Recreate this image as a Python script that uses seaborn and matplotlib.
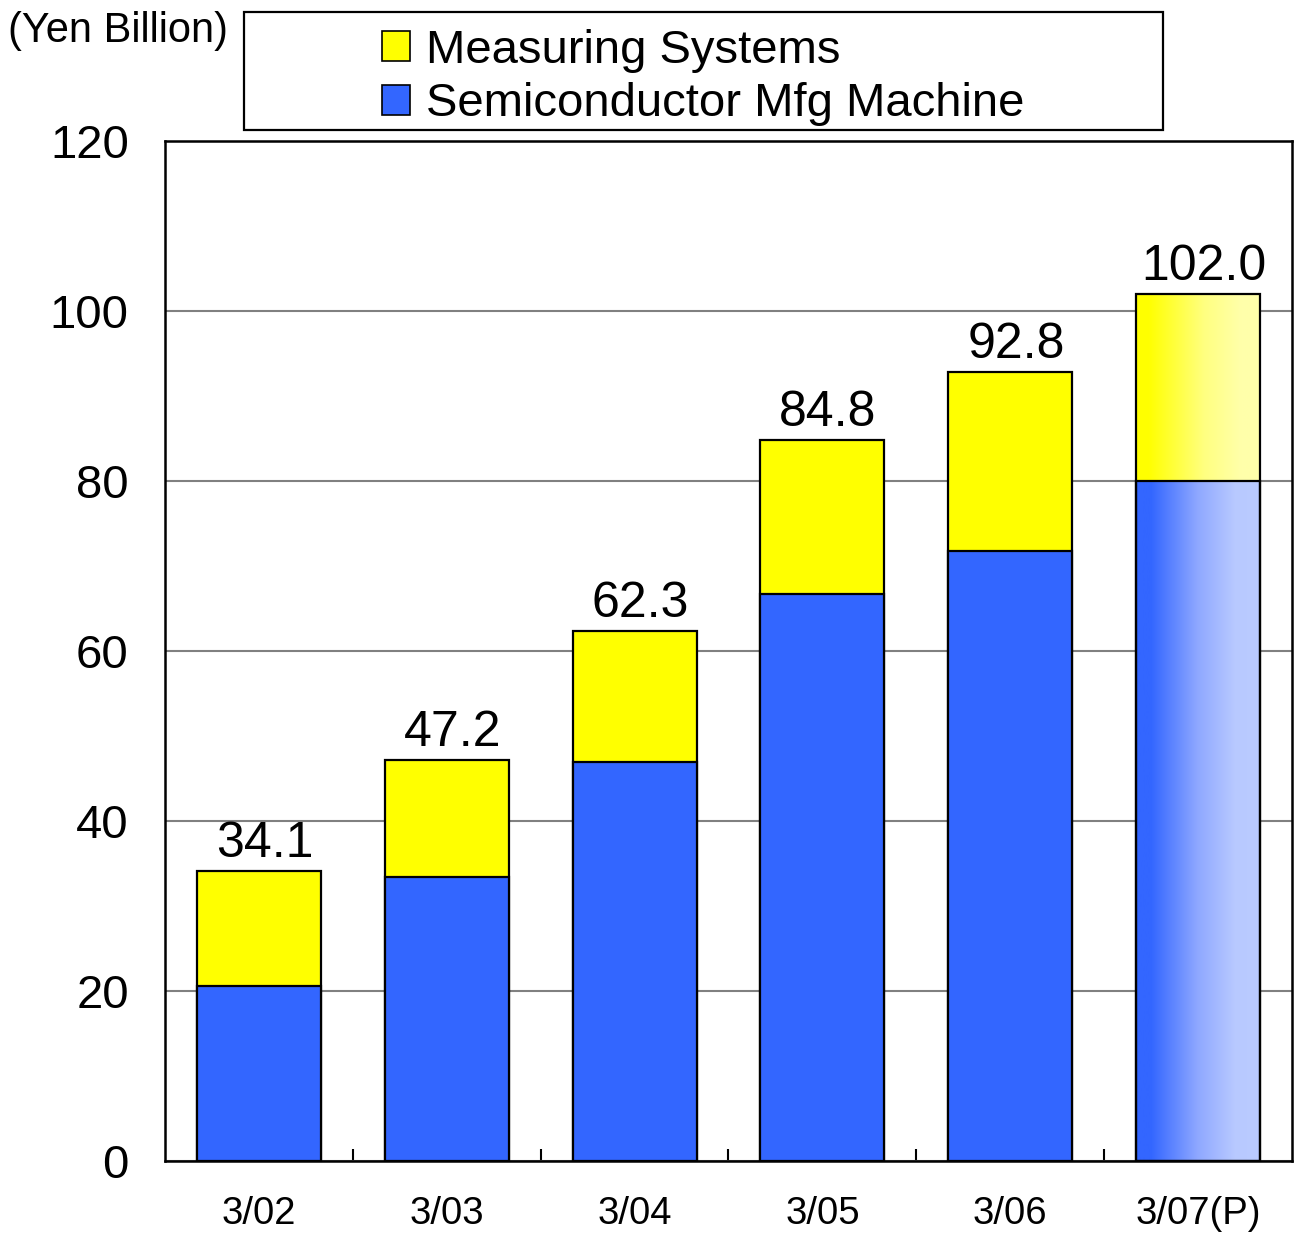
import numpy as np
import pandas as pd
import matplotlib.pyplot as plt
import seaborn as sns
from matplotlib.colors import LinearSegmentedColormap
from matplotlib.patches import Patch, Rectangle

periods = ["3/02", "3/03", "3/04", "3/05", "3/06", "3/07(P)"]
semiconductor = [20.6, 33.4, 46.9, 66.7, 71.8, 80.0]
totals = [34.1, 47.2, 62.3, 84.8, 92.8, 102.0]
y_ticks = [0, 20, 40, 60, 80, 100, 120]

BLUE = "#3366FF"
YELLOW = "#FFFF00"

sns.set_style("white")
plt.rcParams["font.family"] = ["Liberation Sans", "DejaVu Sans"]
plt.rcParams["text.color"] = "black"
plt.rcParams["xtick.color"] = "black"
plt.rcParams["ytick.color"] = "black"

df = pd.DataFrame({"period": periods, "semi": semiconductor, "total": totals})

fig = plt.figure(figsize=(13.01, 12.33), dpi=100)
ax = fig.add_axes([0.1268, 0.0584, 0.8663, 0.8272])

# stacked: total (yellow) underneath, semiconductor (blue) on top
sns.barplot(data=df, x="period", y="total", color=YELLOW, saturation=1,
            edgecolor="black", linewidth=1.6, width=0.66, ax=ax, zorder=2)
sns.barplot(data=df, x="period", y="semi", color=BLUE, saturation=1,
            edgecolor="black", linewidth=1.6, width=0.66, ax=ax, zorder=3)

# forecast bar gets a horizontal gradient
n = len(periods)
yel_patch = ax.patches[n - 1]
blue_patch = ax.patches[2 * n - 1]
grad = np.linspace(0, 1, 256).reshape(1, -1)
blue_cmap = LinearSegmentedColormap.from_list(
    "bg", [(0, BLUE), (0.12, BLUE), (0.5, "#8FA8FF"), (0.8, "#B8C9FF"), (1, "#BACBFF")])
yel_cmap = LinearSegmentedColormap.from_list(
    "yg", [(0, YELLOW), (0.1, YELLOW), (0.55, "#FFFF80"), (0.85, "#FFFFAA"), (1, "#FFFFAA")])
x0 = blue_patch.get_x()
x1 = x0 + blue_patch.get_width()
ax.imshow(grad, cmap=blue_cmap, aspect="auto", zorder=2.5,
          extent=(x0, x1, 0, blue_patch.get_height()))
ax.imshow(grad, cmap=yel_cmap, aspect="auto", zorder=2.5,
          extent=(x0, x1, blue_patch.get_height(), yel_patch.get_height()))
blue_patch.set_facecolor("none")
yel_patch.set_facecolor("none")
blue_patch.set_zorder(4)
yel_patch.set_zorder(4)

for i, t in enumerate(totals):
    ax.text(i + 0.03, t + 0.5, f"{t:.1f}", ha="center", va="bottom", fontsize=36)

ax.set_xlim(-0.5, n - 0.5)
ax.set_ylim(0, 120)
ax.set_yticks(y_ticks)
ax.set_xlabel("")
ax.set_ylabel("")
ax.set_axisbelow(True)
ax.grid(axis="y", color="#808080", linewidth=1.5)
ax.grid(axis="x", visible=False)
for s in ax.spines.values():
    s.set_color("black")
    s.set_linewidth(1.8)

ax.tick_params(axis="y", length=0, pad=26, labelsize=34)
ax.tick_params(axis="x", which="major", length=0, pad=25, labelsize=27.5)
ax.set_xticks(np.arange(0.5, n - 1, 1), minor=True)
ax.tick_params(axis="x", which="minor", bottom=True, direction="in", length=9,
               width=1.5, color="black")

fig.text(0.006, 0.975, "(Yen Billion)", fontsize=30, ha="left", va="center")

# legend frame
fig.patches.append(Rectangle((244 / 1301, 1 - 130 / 1233), 919 / 1301, 118 / 1233,
                             transform=fig.transFigure, facecolor="white",
                             edgecolor="black", linewidth=1.6))
handles = [Patch(facecolor=YELLOW, edgecolor="black", linewidth=1.2, label="Measuring Systems"),
           Patch(facecolor=BLUE, edgecolor="black", linewidth=1.2, label="Semiconductor Mfg Machine")]
fig.legend(handles=handles, loc="upper left", bbox_to_anchor=(382 / 1301, 1 - 29 / 1233),
           frameon=False, fontsize=34, handlelength=0.6, handleheight=0.6,
           handletextpad=0.33, labelspacing=0.2, borderpad=0, borderaxespad=0)

fig.savefig("out.png", dpi=100)
